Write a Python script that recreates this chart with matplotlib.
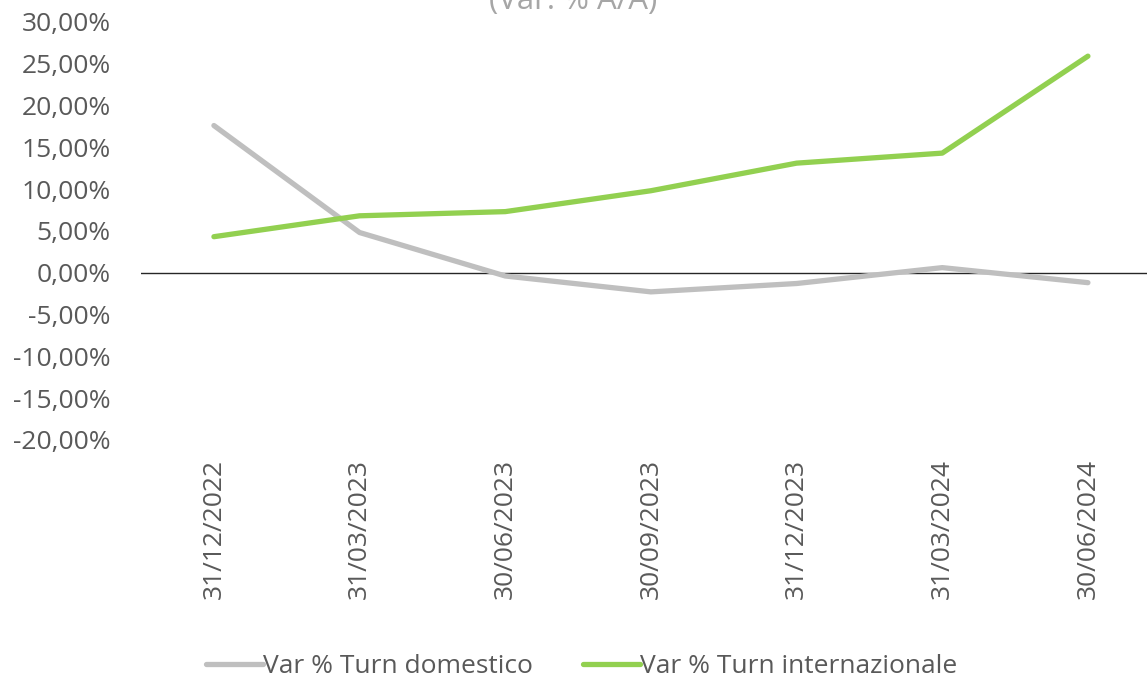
import numpy as np
import matplotlib
matplotlib.use("Agg")
import matplotlib.pyplot as plt
from matplotlib.ticker import FuncFormatter

# data
dates = ["31/12/2022", "31/03/2023", "30/06/2023", "30/09/2023",
         "31/12/2023", "31/03/2024", "30/06/2024"]
turn_domestico = [17.6, 4.8, -0.4, -2.3, -1.3, 0.6, -1.2]
turn_internazionale = [4.3, 6.8, 7.3, 9.8, 13.1, 14.3, 25.9]
y_ticks = np.arange(-20, 31, 5)

plt.rcParams["font.family"] = ["Open Sans", "DejaVu Sans"]

fig = plt.figure(figsize=(11.47, 6.84), dpi=100)
ax = fig.add_axes([0.123, 0.357, 0.889, 0.611])

x = np.arange(len(dates))
ax.plot(x, turn_domestico, color="#bfbfbf", linewidth=3.8,
        solid_capstyle="round", label="Var % Turn domestico")
ax.plot(x, turn_internazionale, color="#92d050", linewidth=3.8,
        solid_capstyle="round", label="Var % Turn internazionale")
ax.axhline(0, color="#262626", linewidth=1.0, zorder=1)

ax.set_xlim(-0.5, len(dates) - 0.5)
ax.set_ylim(-20, 30)
ax.set_yticks(y_ticks)
ax.yaxis.set_major_formatter(FuncFormatter(lambda v, p: f"{v:.2f}%".replace(".", ",")))
ax.set_xticks(x)
ax.set_xticklabels(dates, rotation=90)
ax.tick_params(axis="both", length=0, labelsize=19, labelcolor="#595959")
ax.tick_params(axis="x", pad=14)
ax.tick_params(axis="y", pad=22)
for s in ax.spines.values():
    s.set_visible(False)

# title is partly cut off at the top edge, as in the reference
fig.text(0.50, 0.998, "(Var. % A/A)", ha="center", va="center",
         fontsize=22.5, color="#a6a6a6")

fig.legend(loc="lower center", bbox_to_anchor=(0.507, -0.028), ncol=2,
           frameon=False, fontsize=19, labelcolor="#595959",
           handlelength=2.15, handletextpad=0.0, columnspacing=1.9)

fig.savefig("out.png", dpi=100)
